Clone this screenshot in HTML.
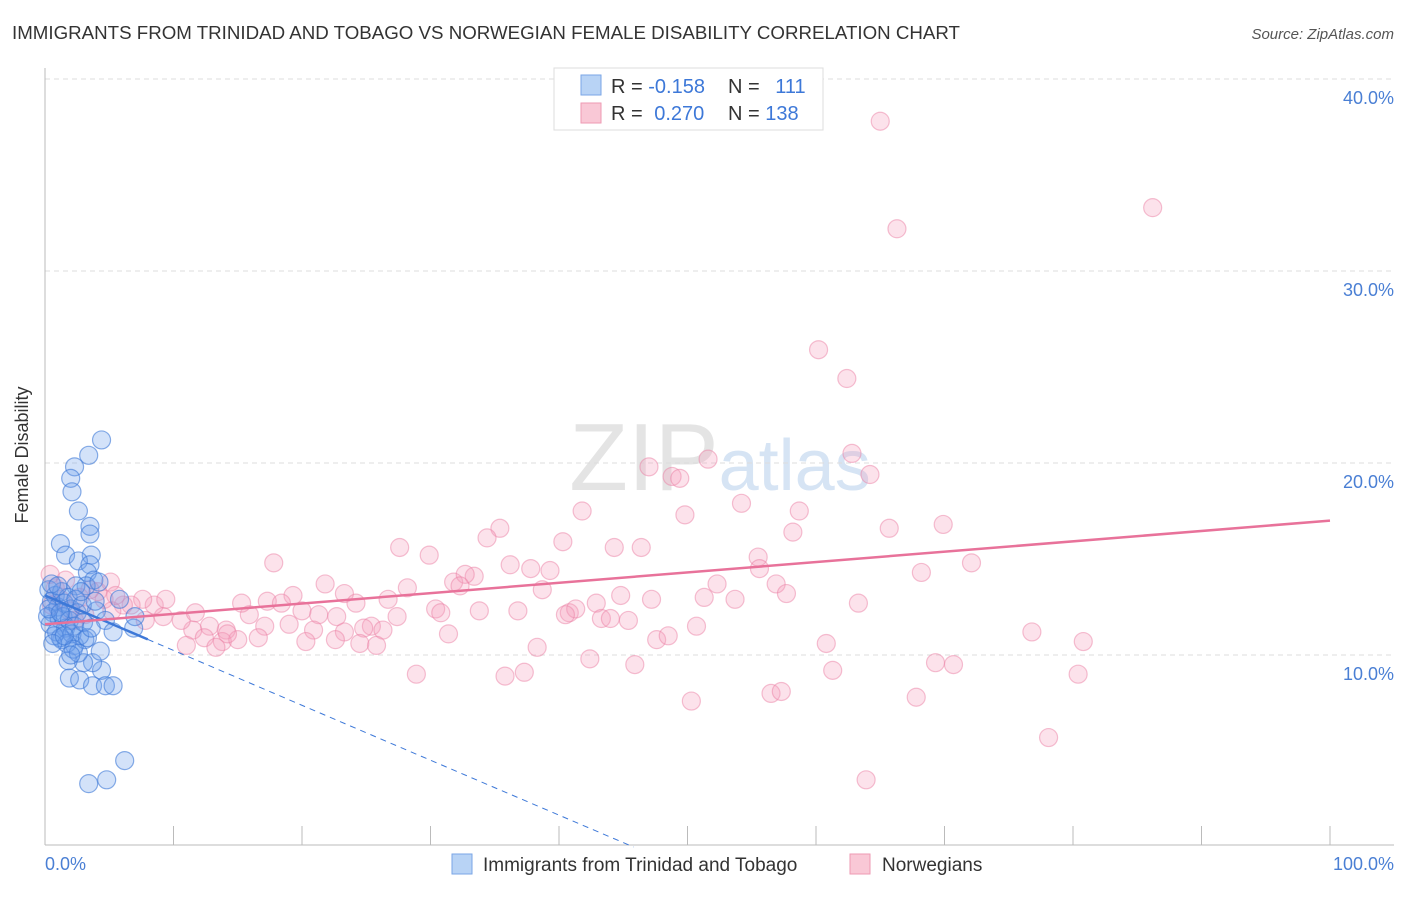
<!DOCTYPE html>
<html><head><meta charset="utf-8"><style>
body{margin:0;background:#fff;font-family:"Liberation Sans",sans-serif}
svg text{font-family:"Liberation Sans",sans-serif}
</style></head><body>
<svg id="chart" width="1406" height="892" xmlns="http://www.w3.org/2000/svg">
<text x="12" y="39" font-size="18" fill="#333" textLength="948" lengthAdjust="spacingAndGlyphs">IMMIGRANTS FROM TRINIDAD AND TOBAGO VS NORWEGIAN FEMALE DISABILITY CORRELATION CHART</text>
<text x="1394" y="39" font-size="15" fill="#555" font-style="italic" text-anchor="end">Source: ZipAtlas.com</text>
<text x="720" y="490" font-size="96" fill="#e4e4e4" text-anchor="middle" font-family="Liberation Serif">ZIP<tspan fill="#d6e4f4" font-family="Liberation Sans" font-size="72">atlas</tspan></text>
<g id="grid"></g>
<g id="axes"></g>
<g id="pts"></g>
<g id="lines"></g>
<text x="28" y="455" font-size="18" fill="#333" text-anchor="middle" transform="rotate(-90 28 455)">Female Disability</text>
<text x="45" y="870" font-size="18" fill="#4a7fd4">0.0%</text>
<text x="1394" y="870" font-size="18" fill="#4a7fd4" text-anchor="end">100.0%</text>
<g>
<rect x="554" y="68" width="269" height="62" fill="#fff" stroke="#ddd"/>
<rect x="581" y="75" width="20" height="20" fill="#b8d3f5" stroke="#7aa6e6"/>
<rect x="581" y="103" width="20" height="20" fill="#f9c8d6" stroke="#ee9ab3"/>
<text x="611" y="93" font-size="20" fill="#333">R = <tspan fill="#3d78d8">-0.158</tspan></text>
<text x="728" y="93" font-size="20" fill="#333">N = <tspan fill="#3d78d8" dx="10">111</tspan></text>
<text x="611" y="120" font-size="20" fill="#333">R = <tspan fill="#3d78d8" dx="6">0.270</tspan></text>
<text x="728" y="120" font-size="20" fill="#333">N = <tspan fill="#3d78d8">138</tspan></text>
</g>
<g>
<rect x="452" y="854" width="20" height="20" fill="#b8d3f5" stroke="#7aa6e6"/>
<text x="483" y="871" font-size="19" fill="#333">Immigrants from Trinidad and Tobago</text>
<rect x="850" y="854" width="20" height="20" fill="#f9c8d6" stroke="#ee9ab3"/>
<text x="882" y="871" font-size="19" fill="#333">Norwegians</text>
</g>
</svg>
<script>
const yTicks=[10,20,30,40];
const yTickLabels=["10.0%","20.0%","30.0%","40.0%"];
const xTicks=[0,10,20,30,40,50,60,70,80,90,100];
const blueX=[4.4,3.4,2.3,2.0,2.1,2.6,3.5,3.5,1.2,1.6,3.6,2.6,3.5,3.3,3.8,3.2,2.4,4.0,4.7,5.3,6.9,7.0,5.8,4.4,3.7,3.0,1.8,1.9,2.7,3.7,4.7,5.3,6.2,3.4,4.8,4.3,1.3,2.3,3.1,
0.3,0.5,0.6,0.4,0.8,1.0,1.1,0.9,1.3,1.5,1.4,1.6,1.2,1.8,2.0,1.9,2.1,2.4,2.5,2.3,2.7,2.9,3.0,0.2,0.7,1.7,2.2,2.6,3.3,3.6,0.5,1.0,0.3,1.2,2.8,3.9,4.2,0.6,1.5,2.0];
const blueY=[21.2,20.4,19.8,19.2,18.5,17.5,16.7,16.3,15.8,15.2,15.2,14.9,14.7,14.3,13.9,13.6,13.6,12.3,11.8,11.2,11.4,12.0,12.9,9.2,9.6,9.6,9.7,8.8,8.7,8.4,8.4,8.4,4.5,3.3,3.5,10.2,10.8,10.5,10.8,
13.4,12.8,12.2,11.6,13.1,12.5,11.9,11.2,13.3,12.7,12.0,11.4,10.9,13.0,12.4,11.8,11.1,12.9,12.2,11.5,11.0,12.6,11.7,12.0,11.0,10.6,10.3,10.1,10.9,11.4,13.7,13.6,12.4,12.2,13.3,12.8,13.8,10.6,11.0,10.0];
const pinkX=[65.0,86.2,66.3,60.2,62.4,62.8,64.2,51.6,47.0,48.8,49.4,69.9,65.7,54.2,58.7,49.8,41.8,35.4,34.4,58.2,40.3,27.6,29.9,44.3,46.4,55.5,72.1,68.2,55.6,36.2,37.8,39.3,17.8,31.8,33.4,32.7,32.3,28.2,21.8,23.3,38.7,52.3,56.9,57.7,51.3,44.8,47.2,53.7,42.9,63.3,26.7,24.2,19.3,17.3,15.9,18.4,15.3,20.0,21.3,30.4,30.8,33.8,36.8,40.8,41.3,40.5,43.3,44.0,45.4,27.4,22.7,25.4,24.8,26.3,23.3,20.9,19.0,17.1,31.4,14.1,12.8,11.5,10.6,11.7,9.2,8.5,7.6,9.4,6.7,6.1,5.2,7.8,4.6,4.1,5.1,5.5,13.8,15.0,14.2,11.0,12.4,13.3,16.6,20.3,22.6,24.5,25.8,38.3,47.6,48.5,50.7,60.8,76.8,80.8,28.9,35.8,37.3,42.4,45.9,61.3,69.3,70.7,80.4,50.3,56.5,57.3,67.8,78.1,63.9,0.8,1.2,1.9,2.7,3.5,1.6,0.4,2.3,0.5,3.1];
const pinkY=[37.8,33.3,32.2,25.9,24.4,20.5,19.4,20.2,19.8,19.3,19.2,16.8,16.6,17.9,17.5,17.3,17.5,16.6,16.1,16.4,15.9,15.6,15.2,15.6,15.6,15.1,14.8,14.3,14.5,14.7,14.5,14.4,14.8,13.8,14.1,14.2,13.6,13.5,13.7,13.2,13.4,13.7,13.7,13.2,13.0,13.1,12.9,12.9,12.7,12.7,12.9,12.7,13.1,12.8,12.1,12.7,12.7,12.3,12.1,12.4,12.2,12.3,12.3,12.2,12.4,12.1,11.9,11.9,11.8,12.0,12.0,11.5,11.4,11.3,11.2,11.3,11.6,11.5,11.1,11.3,11.5,11.3,11.8,12.2,12.0,12.6,12.9,12.9,12.6,12.6,12.3,11.8,12.9,13.3,13.8,13.1,10.7,10.8,11.1,10.5,10.9,10.4,10.9,10.7,10.8,10.6,10.5,10.4,10.8,11.0,11.5,10.6,11.2,10.7,9.0,8.9,9.1,9.8,9.5,9.2,9.6,9.5,9.0,7.6,8.0,8.1,7.8,5.7,3.5,13.5,12.9,12.3,13.0,13.4,13.9,14.2,11.8,12.6,12.1];
const blueTrend=[13.1,-0.286];
const pinkTrend=[11.6,0.054];
const X=v=>45+v*12.85, Y=v=>847-v*19.2;
const NS="http://www.w3.org/2000/svg";
function mk(parent,tag,attrs){const e=document.createElementNS(NS,tag);for(const k in attrs)e.setAttribute(k,attrs[k]);document.getElementById(parent).appendChild(e);return e;}
yTicks.forEach((t,i)=>{
 const l=mk('grid','line',{x1:45,x2:1394,y1:Y(t),y2:Y(t),stroke:'#ddd','stroke-dasharray':'5,4'});
 
 
 const tx=mk('grid','text',{x:1394,y:Y(t)+25,'font-size':18,fill:'#4a7fd4','text-anchor':'end'});
 tx.textContent=yTickLabels[i];
 
 
});
const ax=mk('axes','line',{x1:45,x2:45,y1:68,y2:845,stroke:'#bbb'});


const bx=mk('axes','line',{x1:45,x2:1394,y1:845,y2:845,stroke:'#bbb'});


xTicks.forEach(t=>{
 const l=mk('axes','line',{x1:X(t),x2:X(t),y1:826,y2:845,stroke:'#bbb'});
 
 
});
pinkX.forEach((v,i)=>{
 const c=mk('pts','circle',{cx:X(v),cy:Y(pinkY[i]),r:9,fill:'rgba(244,160,188,0.3)',stroke:'rgba(236,130,165,0.5)','stroke-width':1.2});
 
 
});
blueX.forEach((v,i)=>{
 const c=mk('pts','circle',{cx:X(v),cy:Y(blueY[i]),r:9,fill:'rgba(110,160,235,0.3)',stroke:'rgba(60,120,215,0.6)','stroke-width':1.2});
 
 
});
const bEnd=(0-blueTrend[0])/blueTrend[1];
const b1=mk('lines','line',{x1:X(0),y1:Y(blueTrend[0]),x2:X(8),y2:Y(blueTrend[0]+blueTrend[1]*8),stroke:'#3d78d8','stroke-width':2.5});


const b2=mk('lines','line',{x1:X(8),y1:Y(blueTrend[0]+blueTrend[1]*8),x2:X(bEnd),y2:Y(0),stroke:'#3d78d8','stroke-width':1,'stroke-dasharray':'6,5'});


const p1=mk('lines','line',{x1:X(0),y1:Y(pinkTrend[0]),x2:X(100),y2:Y(pinkTrend[0]+pinkTrend[1]*100),stroke:'#e8729a','stroke-width':2.5});


</script>
</body></html>
